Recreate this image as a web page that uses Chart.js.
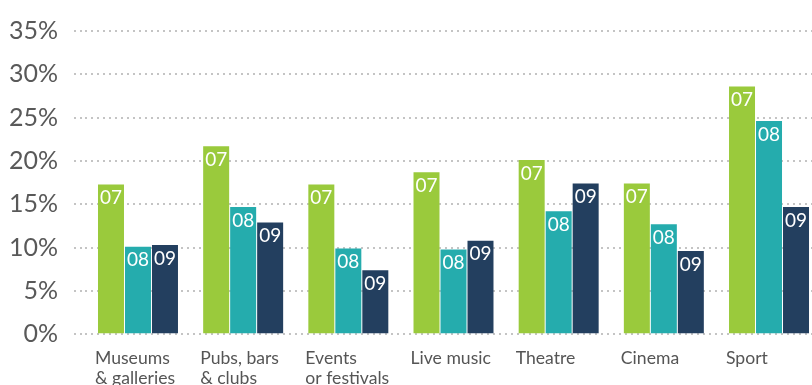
<!DOCTYPE html>
<html>
<head>
<meta charset="utf-8">
<script src="https://cdn.jsdelivr.net/npm/chart.js@4"></script>
<style>
html,body{margin:0;padding:0;background:#fff;overflow:hidden;}
#wrap{width:830px;height:385px;}
</style>
</head>
<body>
<div id="wrap"><canvas id="c" width="830" height="385"></canvas></div>
<script>
const categories = [["Museums","& galleries"],["Pubs, bars","& clubs"],["Events","or festivals"],"Live music","Theatre","Cinema","Sport"];
const seriesNames = ["07","08","09"];
const values07 = [17.3, 21.7, 17.3, 18.7, 20.1, 17.4, 28.6];
const values08 = [10.1, 14.7, 9.9, 9.8, 14.2, 12.7, 24.6];
const values09 = [10.3, 12.9, 7.4, 10.8, 17.4, 9.6, 14.7];
const yTicks = [0,5,10,15,20,25,30,35];
const colors = ["#9ACA3C","#25ACAD","#233F5F"];

const labelPlugin = {
  id:'barLabels',
  afterDatasetsDraw(chart){
    const ctx = chart.ctx;
    ctx.save();
    ctx.font = '19px Lato';
    ctx.fillStyle = '#ffffff';
    ctx.textAlign = 'center';
    ctx.textBaseline = 'top';
    chart.data.datasets.forEach((ds,i)=>{
      const meta = chart.getDatasetMeta(i);
      meta.data.forEach(bar=>{
        ctx.fillText(ds.label, bar.x, bar.y + 4);
      });
    });
    ctx.restore();
  }
};

new Chart(document.getElementById('c'), {
  type:'bar',
  data:{
    labels:categories,
    datasets:[
      {label:seriesNames[0], data:values07, backgroundColor:colors[0]},
      {label:seriesNames[1], data:values08, backgroundColor:colors[1]},
      {label:seriesNames[2], data:values09, backgroundColor:colors[2]}
    ]
  },
  options:{
    responsive:false,
    animation:false,
    layout:{padding:{top:26,right:8.4,left:0,bottom:0}},
    datasets:{bar:{categoryPercentage:0.77, barPercentage:0.963}},
    plugins:{legend:{display:false}, tooltip:{enabled:false}},
    scales:{
      x:{
        grid:{display:false, drawTicks:false},
        border:{display:false},
        afterFit(s){ s.height = 50.7; },
        ticks:{
          color:'#555555',
          font:{family:'Lato', size:17.6, lineHeight:1.14},
          align:'start',
          labelOffset:-43,
          padding:14,
          maxRotation:0, autoSkip:false
        }
      },
      y:{
        min:0, max:35,
        afterFit(s){ s.width = 85.4; },
        afterBuildTicks(s){ s.ticks = yTicks.map(v=>({value:v})); },
        border:{display:false, dash:[2,4]},
        grid:{
          color:'#C4C4C4', lineWidth:2,
          tickLength:11.4, tickBorderDash:[2,4], tickColor:'#C4C4C4'
        },
        ticks:{
          color:'#595959',
          font:{family:'Lato', size:25},
          padding:16,
          callback:v=>v+'%'
        }
      }
    }
  },
  plugins:[labelPlugin]
});
</script>
</body>
</html>
